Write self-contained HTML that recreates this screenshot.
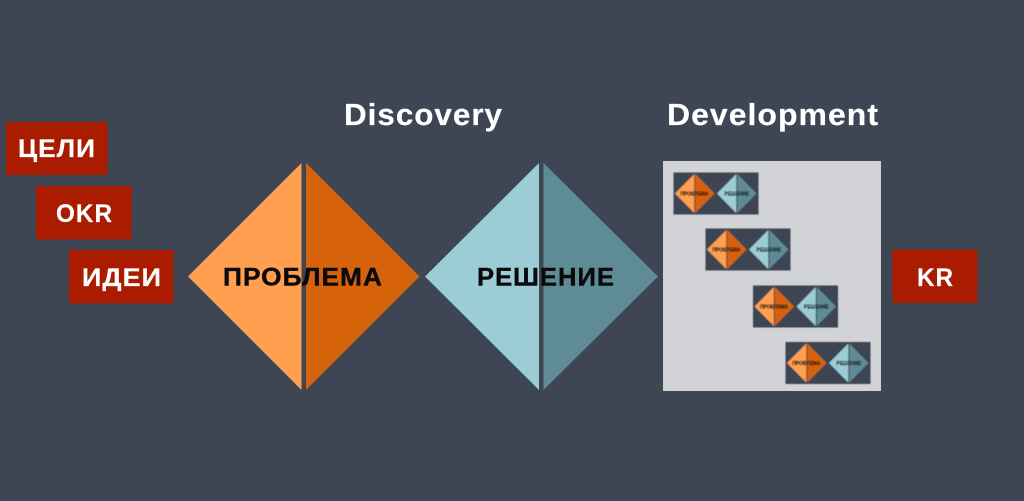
<!DOCTYPE html>
<html lang="ru">
<head>
<meta charset="utf-8">
<title>Discovery / Development</title>
<style>
html,body{margin:0;padding:0;background:#3e4553;width:1024px;height:501px;overflow:hidden}
svg{display:block}
text{font-family:"Liberation Sans","Noto Sans CJK SC",sans-serif;font-weight:700}
.w{fill:#fff;stroke:#fff;stroke-width:.2px}
.k{fill:#0a0a0a;stroke:#0a0a0a;stroke-width:.4px}
.l{font-size:25px;letter-spacing:1px}
.t{font-size:31px;letter-spacing:1px}
.m{fill:#2a1c10;stroke:#2a1c10;stroke-width:.25px;font-size:5.8px}
.n{fill:#16242a;stroke:#16242a;stroke-width:.25px;font-size:5.8px}
</style>
</head>
<body>
<svg width="1024" height="501" viewBox="0 0 1024 501" xmlns="http://www.w3.org/2000/svg">
<defs><filter id="b" x="-5%" y="-5%" width="110%" height="110%"><feGaussianBlur stdDeviation="0.5"/></filter></defs>
<rect width="1024" height="501" fill="#3e4553"/>

<!-- Left labels -->
<rect x="6" y="122" width="101.500" height="53" fill="#ab1b00"/>
<text class="w l" x="18" y="157" textLength="78" lengthAdjust="spacingAndGlyphs">ЦЕЛИ</text>
<rect x="36" y="186" width="95.500" height="53.500" fill="#ab1b00"/>
<text class="w l" x="56" y="222" textLength="57" lengthAdjust="spacingAndGlyphs">OKR</text>
<rect x="69" y="250" width="104.500" height="53.500" fill="#ab1b00"/>
<text class="w l" x="82" y="286" textLength="80" lengthAdjust="spacingAndGlyphs">ИДЕИ</text>

<!-- Titles -->
<text class="w t" x="344" y="125" textLength="159" lengthAdjust="spacingAndGlyphs">Discovery</text>
<text class="w t" x="667" y="125" textLength="212" lengthAdjust="spacingAndGlyphs">Development</text>

<!-- Big diamonds -->
<polygon points="188,276.500 301.500,163 301.500,390" fill="#ff9f4f"/>
<polygon points="306,163 419.500,276.500 306,390" fill="#d7620c"/>
<polygon points="425,276.500 539,163 539,390" fill="#9ccdd6"/>
<polygon points="543.500,163 658,276.500 543.500,390" fill="#5f8b96"/>
<text class="k l" x="223" y="285.500" textLength="160" lengthAdjust="spacingAndGlyphs">ПРОБЛЕМА</text>
<text class="k l" x="477" y="285.500" textLength="138" lengthAdjust="spacingAndGlyphs">РЕШЕНИЕ</text>

<!-- KR -->
<rect x="892.500" y="249.500" width="85" height="53.500" fill="#ab1b00"/>
<text class="w l" x="917" y="286" textLength="37" lengthAdjust="spacingAndGlyphs">KR</text>

<!-- Development panel -->
<rect x="663" y="161" width="218" height="230" fill="#d2d3d7"/>

<!-- Mini 1 -->
<g transform="translate(673.500 172.500)" filter="url(#b)">
<rect width="85" height="42" fill="#3e4553"/>
<polygon points="1.500,21 20.800,1.500 20.800,40.500" fill="#ff9f4f"/>
<polygon points="21.800,1.500 41,21 21.800,40.500" fill="#d7620c"/>
<polygon points="43.500,21 62.800,1.500 62.800,40.500" fill="#9ccdd6"/>
<polygon points="63.800,1.500 83,21 63.800,40.500" fill="#5f8b96"/>
<text class="m" x="7" y="23" textLength="28" lengthAdjust="spacingAndGlyphs">ПРОБЛЕМА</text>
<text class="n" x="51" y="23" textLength="24.500" lengthAdjust="spacingAndGlyphs">РЕШЕНИЕ</text>
</g>
<!-- Mini 2 -->
<g transform="translate(705.500 228.500)" filter="url(#b)">
<rect width="85" height="42" fill="#3e4553"/>
<polygon points="1.500,21 20.800,1.500 20.800,40.500" fill="#ff9f4f"/>
<polygon points="21.800,1.500 41,21 21.800,40.500" fill="#d7620c"/>
<polygon points="43.500,21 62.800,1.500 62.800,40.500" fill="#9ccdd6"/>
<polygon points="63.800,1.500 83,21 63.800,40.500" fill="#5f8b96"/>
<text class="m" x="7" y="23" textLength="28" lengthAdjust="spacingAndGlyphs">ПРОБЛЕМА</text>
<text class="n" x="51" y="23" textLength="24.500" lengthAdjust="spacingAndGlyphs">РЕШЕНИЕ</text>
</g>
<!-- Mini 3 -->
<g transform="translate(753 285.500)" filter="url(#b)">
<rect width="85" height="42" fill="#3e4553"/>
<polygon points="1.500,21 20.800,1.500 20.800,40.500" fill="#ff9f4f"/>
<polygon points="21.800,1.500 41,21 21.800,40.500" fill="#d7620c"/>
<polygon points="43.500,21 62.800,1.500 62.800,40.500" fill="#9ccdd6"/>
<polygon points="63.800,1.500 83,21 63.800,40.500" fill="#5f8b96"/>
<text class="m" x="7" y="23" textLength="28" lengthAdjust="spacingAndGlyphs">ПРОБЛЕМА</text>
<text class="n" x="51" y="23" textLength="24.500" lengthAdjust="spacingAndGlyphs">РЕШЕНИЕ</text>
</g>
<!-- Mini 4 -->
<g transform="translate(785.500 342)" filter="url(#b)">
<rect width="85" height="42" fill="#3e4553"/>
<polygon points="1.500,21 20.800,1.500 20.800,40.500" fill="#ff9f4f"/>
<polygon points="21.800,1.500 41,21 21.800,40.500" fill="#d7620c"/>
<polygon points="43.500,21 62.800,1.500 62.800,40.500" fill="#9ccdd6"/>
<polygon points="63.800,1.500 83,21 63.800,40.500" fill="#5f8b96"/>
<text class="m" x="7" y="23" textLength="28" lengthAdjust="spacingAndGlyphs">ПРОБЛЕМА</text>
<text class="n" x="51" y="23" textLength="24.500" lengthAdjust="spacingAndGlyphs">РЕШЕНИЕ</text>
</g>
</svg>
</body>
</html>
